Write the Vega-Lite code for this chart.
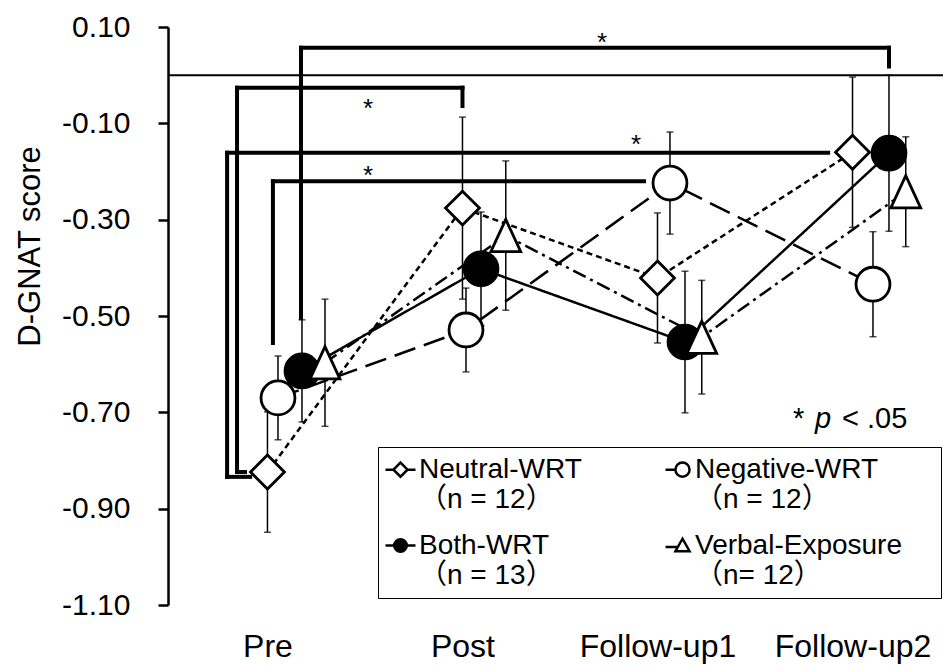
{
  "$schema": "https://vega.github.io/schema/vega-lite/v6.json",
  "width": 775,
  "height": 578,
  "autosize": {"type": "none"},
  "padding": {"left": 168, "top": 27, "right": 0, "bottom": 61},
  "background": "white",
  "config": {
    "view": {"stroke": null},
    "font": "Liberation Sans",
    "axis": {"grid": false, "labelColor": "black", "titleColor": "black", "labelFont": "Liberation Sans", "titleFont": "Liberation Sans", "titleFontWeight": "normal"},
    "axisY": {"domainColor": "black", "domainWidth": 2.5, "tickColor": "black", "tickWidth": 2.5, "tickSize": 10, "labelFontSize": 30, "labelPadding": 28, "titleFontSize": 31},
    "axisX": {"domain": false, "ticks": false, "labelFontSize": 32, "labelPadding": 26}
  },
  "datasets": {
    "scores": [
      {"group": "Both-WRT", "time": "Pre", "x": 1.177, "mean": -0.614, "se": 0.106},
      {"group": "Both-WRT", "time": "Post", "x": 2.095, "mean": -0.402, "se": 0.118},
      {"group": "Both-WRT", "time": "Follow-up1", "x": 3.141, "mean": -0.554, "se": 0.147},
      {"group": "Both-WRT", "time": "Follow-up2", "x": 4.187, "mean": -0.162, "se": 0.162},
      {"group": "Neutral-WRT", "time": "Pre", "x": 1.0, "mean": -0.824, "se": 0.125},
      {"group": "Neutral-WRT", "time": "Post", "x": 2.0, "mean": -0.276, "se": 0.189},
      {"group": "Neutral-WRT", "time": "Follow-up1", "x": 3.0, "mean": -0.421, "se": 0.135},
      {"group": "Neutral-WRT", "time": "Follow-up2", "x": 4.0, "mean": -0.16, "se": 0.156},
      {"group": "Negative-WRT", "time": "Pre", "x": 1.054, "mean": -0.67, "se": 0.087},
      {"group": "Negative-WRT", "time": "Post", "x": 2.018, "mean": -0.529, "se": 0.087},
      {"group": "Negative-WRT", "time": "Follow-up1", "x": 3.064, "mean": -0.224, "se": 0.106},
      {"group": "Negative-WRT", "time": "Follow-up2", "x": 4.105, "mean": -0.434, "se": 0.109},
      {"group": "Verbal-Exposure", "time": "Pre", "x": 1.295, "mean": -0.597, "se": 0.132},
      {"group": "Verbal-Exposure", "time": "Post", "x": 2.222, "mean": -0.333, "se": 0.155},
      {"group": "Verbal-Exposure", "time": "Follow-up1", "x": 3.227, "mean": -0.544, "se": 0.118},
      {"group": "Verbal-Exposure", "time": "Follow-up2", "x": 4.273, "mean": -0.242, "se": 0.114}
    ],
    "brackets": [
      {"pair": "A", "x": 1.172, "x2": 4.187, "y": 0.057, "y2": 0.057},
      {"pair": "A", "x": 1.172, "x2": 1.172, "y": 0.057, "y2": -0.504},
      {"pair": "A", "x": 4.187, "x2": 4.187, "y": 0.057, "y2": 0.018},
      {"pair": "B", "x": 0.844, "x2": 2.0, "y": -0.026, "y2": -0.026},
      {"pair": "B", "x": 0.844, "x2": 0.844, "y": -0.026, "y2": -0.824},
      {"pair": "B", "x": 0.844, "x2": 0.885, "y": -0.824, "y2": -0.824},
      {"pair": "B", "x": 2.0, "x2": 2.0, "y": -0.026, "y2": -0.064},
      {"pair": "C", "x": 0.793, "x2": 3.875, "y": -0.161, "y2": -0.161},
      {"pair": "C", "x": 0.793, "x2": 0.793, "y": -0.161, "y2": -0.834},
      {"pair": "C", "x": 0.793, "x2": 0.911, "y": -0.834, "y2": -0.834},
      {"pair": "D", "x": 1.028, "x2": 2.931, "y": -0.22, "y2": -0.22},
      {"pair": "D", "x": 1.028, "x2": 1.028, "y": -0.22, "y2": -0.556}
    ],
    "stars": [
      {"pair": "A", "x": 2.716, "y": 0.066, "t": "*"},
      {"pair": "B", "x": 1.516, "y": -0.071, "t": "*"},
      {"pair": "C", "x": 2.89, "y": -0.144, "t": "*"},
      {"pair": "D", "x": 1.516, "y": -0.21, "t": "*"}
    ],
    "note": [
      {"x": 3.695, "y": -0.7325, "t": "*", "italic": false},
      {"x": 3.808, "y": -0.7325, "t": "p", "italic": true},
      {"x": 3.946, "y": -0.7325, "t": "< .05", "italic": false}
    ]
  },
  "layer": [
    {
      "data": {"values": [{"y": 0}]},
      "mark": {"type": "rule", "color": "black", "strokeWidth": 2},
      "encoding": {
        "y": {"field": "y", "type": "quantitative", "title": "D-GNAT score", "scale": {"domain": [-1.1, 0.1], "nice": false, "zero": false}}
      }
    },
    {
      "data": {"name": "brackets"},
      "mark": {"type": "rule", "color": "black", "strokeWidth": 4, "strokeCap": "square"},
      "encoding": {
        "x": {"field": "x", "type": "quantitative", "title": null, "scale": {"domain": [0.49, 4.464], "nice": false, "zero": false}},
        "x2": {"field": "x2"},
        "y": {"field": "y", "type": "quantitative", "title": "D-GNAT score", "scale": {"domain": [-1.1, 0.1], "nice": false, "zero": false}},
        "y2": {"field": "y2"}
      }
    },
    {
      "data": {"name": "scores"},
      "mark": {"type": "errorbar", "ticks": {"size": 7, "thickness": 1.5, "color": "black"}, "rule": {"strokeWidth": 1.5, "color": "black"}},
      "encoding": {
        "x": {"field": "x", "type": "quantitative", "title": null, "scale": {"domain": [0.49, 4.464], "nice": false, "zero": false}},
        "y": {"field": "mean", "type": "quantitative", "title": "D-GNAT score", "scale": {"domain": [-1.1, 0.1], "nice": false, "zero": false}},
        "yError": {"field": "se"}
      }
    },
    {
      "data": {"name": "scores"},
      "mark": {"type": "line", "color": "black", "strokeWidth": 2.5},
      "encoding": {
        "x": {"field": "x", "type": "quantitative", "title": null, "scale": {"domain": [0.49, 4.464], "nice": false, "zero": false}},
        "y": {"field": "mean", "type": "quantitative", "title": "D-GNAT score", "scale": {"domain": [-1.1, 0.1], "nice": false, "zero": false}},
        "strokeDash": {"field": "group", "type": "nominal", "scale": {"domain": ["Neutral-WRT", "Negative-WRT", "Both-WRT", "Verbal-Exposure"], "range": [[6, 4], [22, 9], [1, 0], [14, 5, 3, 5]]}, "legend": null}
      }
    },
    {
      "data": {"name": "scores"},
      "mark": {"type": "point", "filled": true, "opacity": 1, "size": 1150, "stroke": "black", "strokeWidth": 2.8},
      "encoding": {
        "x": {"field": "x", "type": "quantitative", "title": null, "scale": {"domain": [0.49, 4.464], "nice": false, "zero": false},
          "axis": {"values": [1, 2, 3, 4], "labelExpr": "['', 'Pre', 'Post', 'Follow-up1', 'Follow-up2'][datum.value]", "labelOverlap": false, "labelFlush": false, "title": null}},
        "y": {"field": "mean", "type": "quantitative", "title": "D-GNAT score", "scale": {"domain": [-1.1, 0.1], "nice": false, "zero": false},
          "axis": {"values": [0.1, -0.1, -0.3, -0.5, -0.7, -0.9, -1.1], "labelExpr": "(datum.value < 0 ? '-' : '') + format(abs(datum.value), '.2f')", "title": "D-GNAT score", "titleX": -138, "titleY": 219, "titleBaseline": "middle", "titleAlign": "center", "titleAngle": 270, "labelOverlap": false}},
        "shape": {"field": "group", "type": "nominal", "scale": {"domain": ["Neutral-WRT", "Negative-WRT", "Both-WRT", "Verbal-Exposure"], "range": ["diamond", "circle", "circle", "M0,-0.95L-0.88,0.95L0.88,0.95Z"]}, "legend": null},
        "fill": {"field": "group", "type": "nominal", "scale": {"domain": ["Neutral-WRT", "Negative-WRT", "Both-WRT", "Verbal-Exposure"], "range": ["white", "white", "black", "white"]}, "legend": null}
      }
    },
    {
      "data": {"name": "stars"},
      "mark": {"type": "text", "fontSize": 26, "font": "Liberation Sans", "align": "center", "baseline": "middle", "color": "black"},
      "encoding": {
        "x": {"field": "x", "type": "quantitative", "title": null, "scale": {"domain": [0.49, 4.464], "nice": false, "zero": false}},
        "y": {"field": "y", "type": "quantitative", "title": "D-GNAT score", "scale": {"domain": [-1.1, 0.1], "nice": false, "zero": false}},
        "text": {"field": "t"}
      }
    },
    {
      "data": {"name": "note"},
      "transform": [{"filter": "!datum.italic"}],
      "mark": {"type": "text", "fontSize": 29, "font": "Liberation Sans", "align": "left", "baseline": "alphabetic", "color": "black"},
      "encoding": {
        "x": {"field": "x", "type": "quantitative", "title": null, "scale": {"domain": [0.49, 4.464], "nice": false, "zero": false}},
        "y": {"field": "y", "type": "quantitative", "title": "D-GNAT score", "scale": {"domain": [-1.1, 0.1], "nice": false, "zero": false}},
        "text": {"field": "t"}
      }
    },
    {
      "data": {"name": "note"},
      "transform": [{"filter": "datum.italic"}],
      "mark": {"type": "text", "fontSize": 29, "font": "Liberation Sans", "fontStyle": "italic", "align": "left", "baseline": "alphabetic", "color": "black"},
      "encoding": {
        "x": {"field": "x", "type": "quantitative", "title": null, "scale": {"domain": [0.49, 4.464], "nice": false, "zero": false}},
        "y": {"field": "y", "type": "quantitative", "title": "D-GNAT score", "scale": {"domain": [-1.1, 0.1], "nice": false, "zero": false}},
        "text": {"field": "t"}
      }
    },
    {
      "data": {"values": []},
      "mark": {"type": "point", "filled": false, "opacity": 1, "stroke": "black", "strokeWidth": 2},
      "encoding": {
        "shape": {"field": "group", "type": "nominal",
          "scale": {"domain": ["Neutral-WRT", "Negative-WRT", "Both-WRT", "Verbal-Exposure"],
            "range": [
              "M0,-1.57M0,2.75M-1,0L-0.47,0M-0.47,0L0,-0.47L0.47,0L0,0.47ZM0.47,0L1,0",
              "M0,-1.57M0,2.75M16.9,0M-0.73,0L-0.07,0M0.87,0C0.87,0.26 0.66,0.47 0.4,0.47C0.14,0.47 -0.07,0.26 -0.07,0C-0.07,-0.26 0.14,-0.47 0.4,-0.47C0.66,-0.47 0.87,-0.26 0.87,0Z",
              "M0,-1.57M0,2.75M-1,0L-0.42,0M0.42,0C0.42,0.232 0.232,0.42 0,0.42C-0.232,0.42 -0.42,0.232 -0.42,0C-0.42,-0.232 -0.232,-0.42 0,-0.42C0.232,-0.42 0.42,-0.232 0.42,0ZM0.42,0L1,0",
              "M0,-1.57M0,2.75M16.9,0M-0.73,0.1L0.09,0.1M0.4,-0.45L-0.07,0.38L0.87,0.38Z"
            ]},
          "legend": {"title": null, "orient": "none", "legendX": 210, "legendY": 420, "columns": 2, "direction": "horizontal", "labelFont": "Liberation Sans, Noto Sans CJK JP", "labelFontSize": 28, "labelColor": "black", "labelLimit": 0, "labelOffset": 2,
            "labelExpr": "[datum.label, datum.label == 'Both-WRT' ? '（n = 13）' : (datum.label == 'Verbal-Exposure' ? '（n= 12）' : '（n = 12）')]",
            "symbolSize": 900, "symbolStrokeWidth": 2.5, "strokeColor": "black", "padding": 6, "columnPadding": 78, "rowPadding": 0, "fillColor": "white"}},
        "fill": {"field": "group", "type": "nominal",
          "scale": {"domain": ["Neutral-WRT", "Negative-WRT", "Both-WRT", "Verbal-Exposure"], "range": ["white", "white", "black", "white"]},
          "legend": {"title": null, "orient": "none", "legendX": 210, "legendY": 420, "columns": 2, "direction": "horizontal", "labelFont": "Liberation Sans, Noto Sans CJK JP", "labelFontSize": 28, "labelColor": "black", "labelLimit": 0, "labelOffset": 2,
            "labelExpr": "[datum.label, datum.label == 'Both-WRT' ? '（n = 13）' : (datum.label == 'Verbal-Exposure' ? '（n= 12）' : '（n = 12）')]",
            "symbolSize": 900, "symbolStrokeWidth": 2.5, "strokeColor": "black", "padding": 6, "columnPadding": 78, "rowPadding": 0, "fillColor": "white"}}
      }
    }
  ],
  "resolve": {"scale": {"shape": "independent", "fill": "independent"}}
}
